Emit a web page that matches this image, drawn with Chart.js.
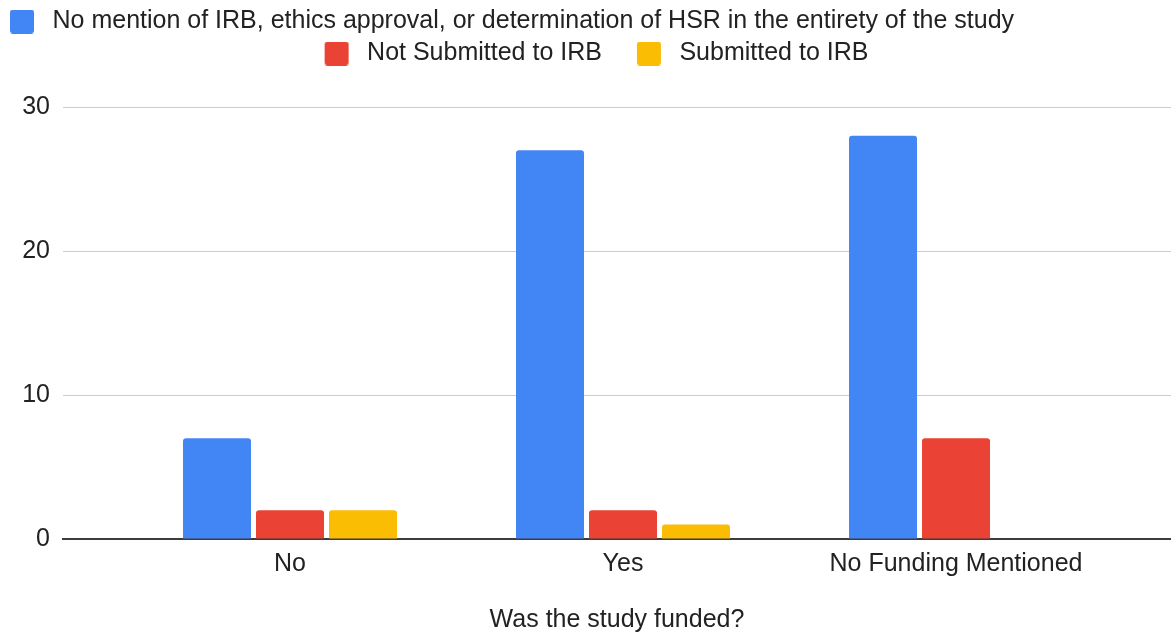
<!DOCTYPE html>
<html><head><meta charset="utf-8">
<script src="https://cdn.jsdelivr.net/npm/chart.js@4"></script>
<style>html,body{margin:0;padding:0;background:#fff;} canvas{display:block;}</style>
</head><body>
<canvas id="c" width="1171" height="638"></canvas>
<script>
// ---- data ----
const categories = ['No', 'Yes', 'No Funding Mentioned'];
const seriesNames = [
  'No mention of IRB, ethics approval, or determination of HSR in the entirety of the study',
  'Not Submitted to IRB',
  'Submitted to IRB'
];
const noMention = [7, 27, 28];
const notSubmitted = [2, 2, 7];
const submitted = [2, 1, 0];
const yTicks = [0, 10, 20, 30];
const xTitle = 'Was the study funded?';

// ---- style ----
const colors = ['#4285F4', '#EA4335', '#FBBC04'];
const FONT = "'Liberation Sans', Arial, Helvetica, sans-serif";
const TEXT = '#222222';
const FS = 25;
const SW_OFF = 28, SW_W = 58, SW_SIZE = 24;

Chart.defaults.font.family = FONT;
Chart.defaults.color = TEXT;

function swatch(color) {
  const cv = document.createElement('canvas');
  cv.width = SW_W; cv.height = SW_SIZE;
  const g = cv.getContext('2d');
  g.fillStyle = color;
  g.beginPath();
  g.roundRect(SW_OFF, 0, SW_SIZE, SW_SIZE, 3);
  g.fill();
  return cv;
}
const swatches = colors.map(swatch);

const seriesValues = [noMention, notSubmitted, submitted];
const datasets = seriesValues.map((vals, s) => ({
  label: seriesNames[s],
  data: vals.map((v, i) => ({x: i, y: v})),
  backgroundColor: colors[s],
  borderWidth: 0,
  borderRadius: 3,
  categoryPercentage: 0.6577,
  barPercentage: 0.9315
}));

const legendTweak = {
  id: 'legendTweak',
  beforeInit(chart) {
    const lg = chart.legend;
    const fit = lg.fit;
    lg.fit = function () { fit.call(this); this.height += 31; };
  },
  afterLayout(chart) {
    const lg = chart.legend;
    const pad = lg.options.labels.padding;
    if (lg.lineWidths && lg.lineWidths.length) {
      lg.lineWidths[0] = lg.left + pad + lg.right - 2 * (10 - SW_OFF);
      if (lg.lineWidths.length > 1) lg.lineWidths[1] += 6;
    }
  }
};

new Chart(document.getElementById('c'), {
  type: 'bar',
  data: { datasets },
  plugins: [legendTweak],
  options: {
    responsive: false,
    animation: false,
    layout: { padding: { left: 0, right: 0, top: 2, bottom: 0 } },
    plugins: {
      tooltip: { enabled: false },
      legend: {
        position: 'top',
        labels: {
          usePointStyle: true,
          pointStyleWidth: SW_W,
          padding: 7,
          color: TEXT,
          font: { size: FS, family: FONT },
          generateLabels(chart) {
            const items = Chart.defaults.plugins.legend.labels.generateLabels(chart);
            items.forEach((it, i) => { it.pointStyle = swatches[i]; });
            return items;
          }
        }
      }
    },
    scales: {
      x: {
        type: 'linear',
        offset: false,
        min: -0.6817,
        max: 2.6456,
        grid: { display: false, drawTicks: false },
        border: { display: true, color: '#3c3c3c', width: 2 },
        afterBuildTicks(scale) { scale.ticks = categories.map((c, i) => ({ value: i })); },
        ticks: {
          padding: 10,
          color: TEXT,
          font: { size: FS, family: FONT },
          maxRotation: 0,
          autoSkip: false,
          callback: (v) => categories[v] !== undefined ? categories[v] : ''
        },
        title: {
          display: true,
          text: xTitle,
          color: TEXT,
          font: { size: FS, family: FONT },
          padding: { top: 16, bottom: 3 }
        }
      },
      y: {
        min: 0,
        max: 30,
        afterFit(scale) { scale.width = 63; },
        afterBuildTicks(scale) { scale.ticks = yTicks.map(v => ({ value: v })); },
        border: { display: false },
        grid: {
          drawTicks: false,
          color: (ctx) => (ctx.tick && ctx.tick.value === 0) ? 'rgba(0,0,0,0)' : '#cccccc',
          lineWidth: 1
        },
        ticks: {
          padding: 13,
          color: TEXT,
          font: { size: FS, family: FONT }
        }
      }
    }
  }
});
</script>
</body></html>
